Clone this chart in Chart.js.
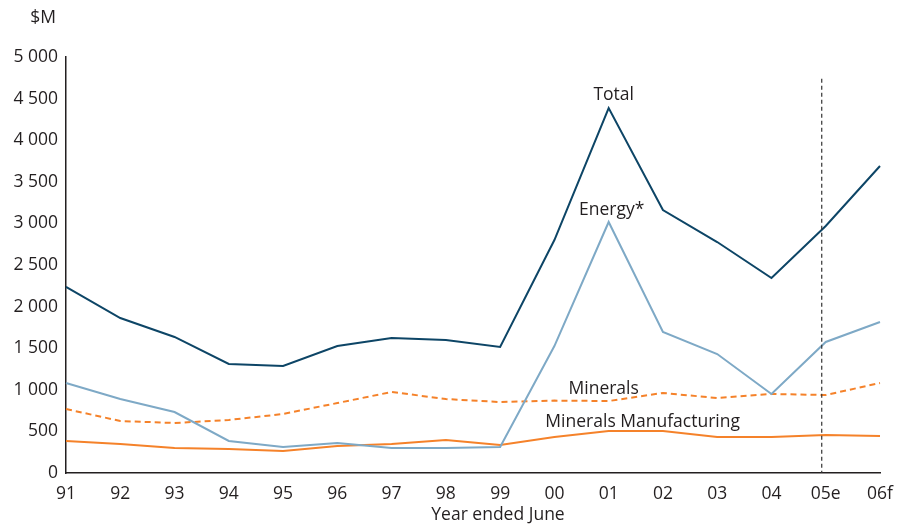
<!DOCTYPE html>
<html>
<head>
<meta charset="utf-8">
<script src="https://cdn.jsdelivr.net/npm/chart.js@4.4.1/dist/chart.umd.min.js"></script>
<style>
  html, body { margin: 0; padding: 0; background: #fff; }
  #wrap { width: 901px; height: 527px; position: relative; }
</style>
</head>
<body>
<div id="wrap"><canvas id="chart"></canvas></div>
<script>
var years = ['91','92','93','94','95','96','97','98','99','00','01','02','03','04','05e','06f'];
var total = [2236,1863,1635,1310,1286,1526,1623,1599,1514,2800,4387,3161,2776,2344,2969,3690];
var energy = [1082,889,733,385,312,361,300,300,312,1526,3017,1695,1430,950,1575,1815];
var minerals = [769,625,601,637,709,841,974,889,853,870,865,962,901,950,937,1082];
var mineralsMfg = [385,349,300,288,264,325,349,397,337,433,505,505,433,433,457,445];
var yTicks = [0,500,1000,1500,2000,2500,3000,3500,4000,4500,5000];

var FONT = '"Open Sans", "Noto Sans", sans-serif';
var FSIZE = 17.5;
var TEXT = '#231f20';

// labels on the lines, the $M unit, axis title and the dashed forecast line
var extras = {
    id: 'extras',
    afterDatasetsDraw: function(chart) {
        var ctx = chart.ctx;
        var x = chart.scales.x, y = chart.scales.y;
        ctx.save();
        ctx.fillStyle = TEXT;
        ctx.font = FSIZE + 'px ' + FONT;
        ctx.textAlign = 'center';
        ctx.textBaseline = 'middle';
        ctx.fillText('Total', x.getPixelForValue(10) + 5, y.getPixelForValue(4540));
        ctx.fillText('Energy*', x.getPixelForValue(10) + 3, y.getPixelForValue(3160));
        ctx.fillText('Minerals', x.getPixelForValue(10) - 5, y.getPixelForValue(1010));
        ctx.fillText('Minerals Manufacturing', x.getPixelForValue(10) + 34, y.getPixelForValue(610));
        ctx.fillText('$M', 43, 18);
        ctx.fillText('Year ended June', (chart.chartArea.left + chart.chartArea.right) / 2 + 25, 515);

        var xd = x.getPixelForValue(14) - 4;
        ctx.strokeStyle = '#333';
        ctx.lineWidth = 1.2;
        ctx.setLineDash([4, 3]);
        ctx.beginPath();
        ctx.moveTo(xd, y.getPixelForValue(4740));
        ctx.lineTo(xd, y.bottom);
        ctx.stroke();
        ctx.restore();
    }
};

function lineSet(label, data, color, dash) {
    return {
        label: label,
        data: data,
        borderColor: color,
        backgroundColor: color,
        borderWidth: 2,
        borderDash: dash || [],
        pointRadius: 0,
        tension: 0,
        fill: false
    };
}

new Chart(document.getElementById('chart').getContext('2d'), {
    type: 'line',
    data: {
        labels: years,
        datasets: [
            lineSet('Total', total, '#0d4566'),
            lineSet('Energy*', energy, '#7ea9c6'),
            lineSet('Minerals', minerals, '#f5822a', [6, 4]),
            lineSet('Minerals Manufacturing', mineralsMfg, '#f5822a')
        ]
    },
    options: {
        responsive: true,
        maintainAspectRatio: false,
        animation: false,
        layout: { padding: { top: 57, right: 21, left: 0, bottom: 0 } },
        plugins: {
            legend: { display: false },
            tooltip: { enabled: false }
        },
        scales: {
            x: {
                offset: false,
                grid: { display: false, drawTicks: false },
                border: { display: true, color: '#231f20', width: 1.5 },
                ticks: { color: TEXT, font: { family: FONT, size: FSIZE }, padding: 11, maxRotation: 0, autoSkip: false },
                afterFit: function(scale) {
                    scale.height = 527 - 473;
                    scale.paddingRight = 0;
                    scale.paddingLeft = 0;
                }
            },
            y: {
                min: 0,
                max: 5000,
                afterBuildTicks: function(scale) {
                    scale.ticks = yTicks.map(function(v) { return { value: v }; });
                },
                grid: { display: false, drawTicks: false },
                border: { display: true, color: '#231f20', width: 1.5 },
                ticks: {
                    color: TEXT,
                    font: { family: FONT, size: FSIZE },
                    padding: 8,
                    callback: function(v) { return String(v).replace(/\B(?=(\d{3})+(?!\d))/g, ' '); }
                },
                afterFit: function(scale) { scale.width = 66; }
            }
        }
    },
    plugins: [extras]
});
</script>
</body>
</html>
